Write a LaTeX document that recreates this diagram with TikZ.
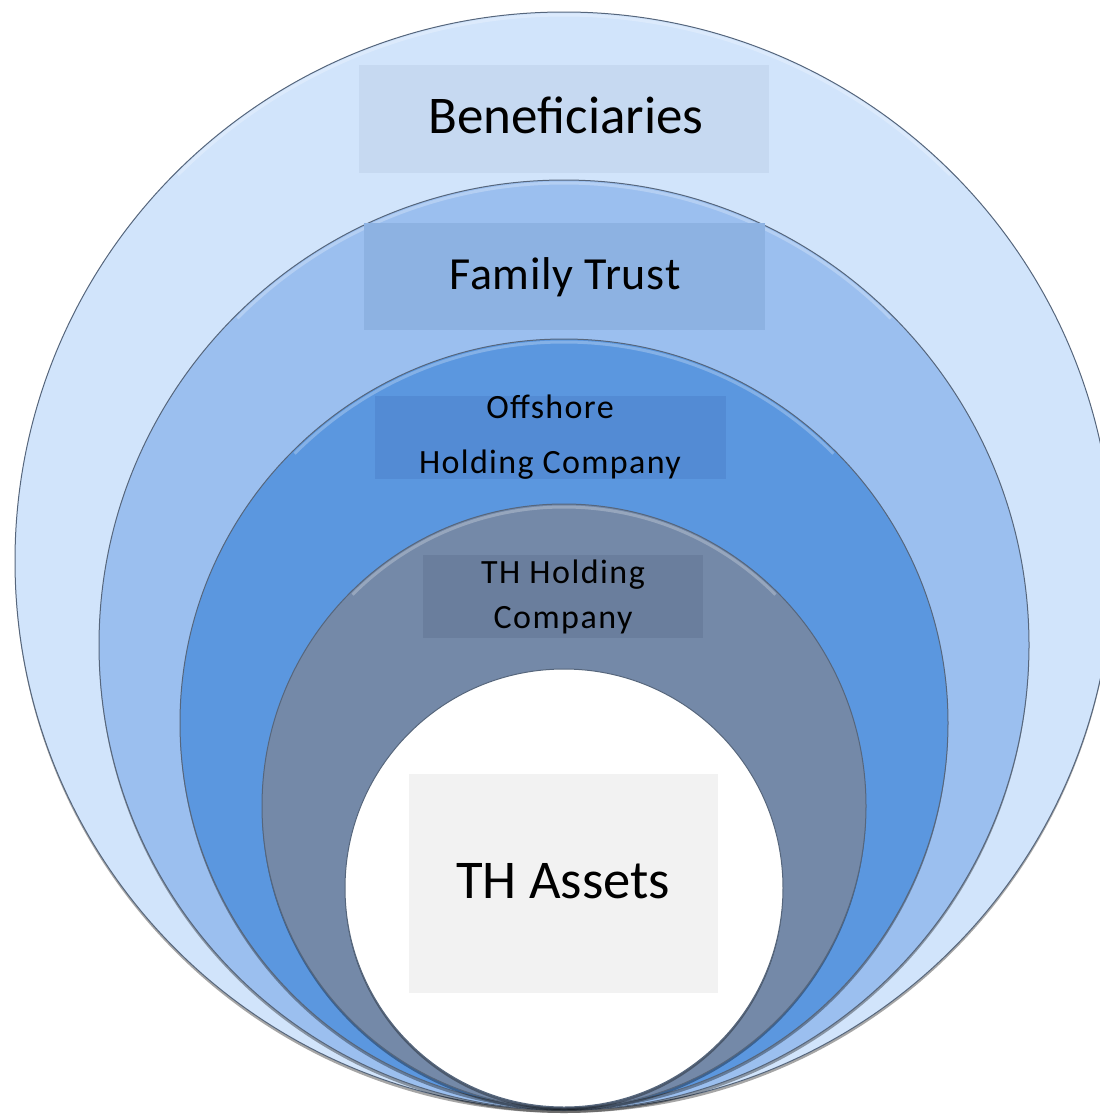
\documentclass[tikz,border=0pt]{standalone}
\usepackage{fontspec}
\setmainfont{Carlito}
\usepackage{tikz}
\usetikzlibrary{shadows}

\definecolor{ringA}{HTML}{D1E4FB}
\definecolor{ringB}{HTML}{9BBFEF}
\definecolor{ringC}{HTML}{5B97DF}
\definecolor{ringD}{HTML}{7489A8}
\definecolor{boxA}{HTML}{C6D9F1}
\definecolor{boxB}{HTML}{8DB2E2}
\definecolor{boxC}{HTML}{538BD4}
\definecolor{boxD}{HTML}{6A7E9D}
\definecolor{boxE}{HTML}{F2F2F2}
\definecolor{ringline}{HTML}{56667C}

\tikzset{
  ring/.style={draw=ringline, line width=0.5pt,
    drop shadow={shadow xshift=0pt, shadow yshift=-1.5pt, opacity=.35, fill=black}},
  glint/.style={white, opacity=.25, line width=1.5pt},
  tagbox/.style={inner sep=0pt, minimum width=#1},
  tagtext/.style={anchor=base, inner sep=0pt, text=black}
}

\begin{document}
\begin{tikzpicture}[x=0.5pt,y=-0.5pt]
  \useasboundingbox (0,0) rectangle (1099,1114);

  % nested rings, outside in
  \draw[ring, fill=ringA] (564,561) circle[radius=549];
  \draw[glint] (564,561) ++(45:-546) arc[start angle=225, end angle=315, radius=546];
  \draw[ring, fill=ringB] (564,645) circle[radius=465];
  \draw[glint] (564,645) ++(45:-462) arc[start angle=225, end angle=315, radius=462];
  \draw[ring, fill=ringC] (564,723) circle[radius=384];
  \draw[glint] (564,723) ++(45:-381) arc[start angle=225, end angle=315, radius=381];
  \draw[ring, fill=ringD] (564,806) circle[radius=302];
  \draw[glint] (564,806) ++(45:-299) arc[start angle=225, end angle=315, radius=299];
  \draw[ring, fill=white] (564,888) circle[radius=219];

  % label boxes
  \node[tagbox=205pt, minimum height=54pt, fill=boxA] (beneficiaries) at (564,119) {};
  \node[tagbox=200.5pt, minimum height=53.5pt, fill=boxB] (trust) at (564.5,276.5) {};
  \node[tagbox=175.5pt, minimum height=41.5pt, fill=boxC] (offshore) at (550.5,437.5) {};
  \node[tagbox=140pt, minimum height=41.5pt, fill=boxD] (thholding) at (563,596.5) {};
  \node[tagbox=154.5pt, minimum height=109.5pt, fill=boxE] (assets) at (563.5,883.5) {};

  % texts
  \node[tagtext, font=\fontsize{26.5}{32}\selectfont] (beneficiaries-t) at (566,133) {Beneficiaries};
  \node[tagtext, font=\fontsize{23}{27}\selectfont\addfontfeature{LetterSpace=1.6}] (trust-t) at (565,289) {Family Trust};
  \node[tagtext, font=\fontsize{17}{20}\selectfont\addfontfeature{LetterSpace=4}] (offshore-t1) at (550,418) {Offshore};
  \node[tagtext, font=\fontsize{17}{20}\selectfont\addfontfeature{LetterSpace=4}] (offshore-t2) at (550,473) {Holding Company};
  \node[tagtext, font=\fontsize{17}{20}\selectfont\addfontfeature{LetterSpace=4.4}] (thholding-t1) at (563,583) {TH Holding};
  \node[tagtext, font=\fontsize{17}{20}\selectfont\addfontfeature{LetterSpace=4.4}] (thholding-t2) at (563,628) {Company};
  \node[tagtext, font=\fontsize{27.3}{33}\selectfont] (assets-t) at (563,898) {TH Assets};
\end{tikzpicture}
\end{document}
